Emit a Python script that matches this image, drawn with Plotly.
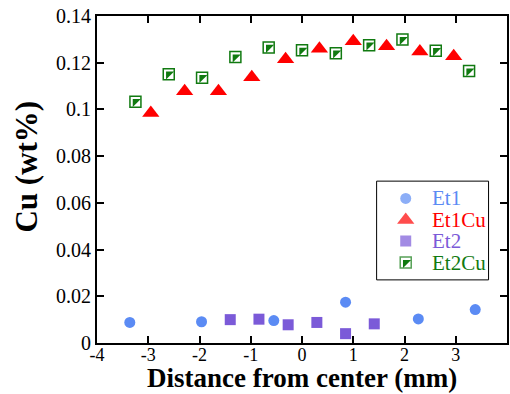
import plotly.graph_objects as go

# Data
et1_x = [-3.36, -1.96, -0.55, 0.85, 2.27, 3.38]
et1_y = [0.0088, 0.0091, 0.0096, 0.0175, 0.0103, 0.0143]

et1cu_x = [-2.95, -2.29, -1.63, -0.98, -0.32, 0.34, 1.00, 1.65, 2.30, 2.96]
et1cu_y = [0.0985, 0.1078, 0.1078, 0.1138, 0.1215, 0.1260, 0.1292, 0.1270, 0.1248, 0.1228]

et2_x = [-1.40, -0.84, -0.27, 0.29, 0.85, 1.41]
et2_y = [0.0100, 0.0102, 0.0078, 0.0088, 0.0040, 0.0082]

et2cu_x = [-3.25, -2.60, -1.95, -1.30, -0.65, 0.00, 0.66, 1.31, 1.96, 2.61, 3.26]
et2cu_y = [0.1033, 0.1151, 0.1136, 0.1224, 0.1265, 0.1253, 0.1241, 0.1275, 0.1299, 0.1251, 0.1164]

x_ticks = [-4, -3, -2, -1, 0, 1, 2, 3, 4]
x_ticktext = ["-4", "-3", "-2", "-1", "0", "1", "2", "3", "4"]
y_ticks = [0, 0.02, 0.04, 0.06, 0.08, 0.1, 0.12, 0.14]
y_ticktext = ["0", "0.02", "0.04", "0.06", "0.08", "0.1", "0.12", "0.14"]

series_names = ["Et1", "Et1Cu", "Et2", "Et2Cu"]

BLUE = "#5B8BF4"
RED = "#FF0000"
PURPLE = "#7B5AD8"
GREEN = "#117A11"
FONT = "Liberation Serif"

fig = go.Figure()

fig.add_trace(go.Scatter(x=et1_x, y=et1_y, mode="markers", name=series_names[0],
                         marker=dict(symbol="circle", size=11, color=BLUE)))
fig.add_trace(go.Scatter(x=et1cu_x, y=et1cu_y, mode="markers", name=series_names[1],
                         marker=dict(symbol="triangle-up", size=15, color=RED)))
fig.add_trace(go.Scatter(x=et2_x, y=et2_y, mode="markers", name=series_names[2],
                         marker=dict(symbol="square", size=11, color=PURPLE)))
# half-filled squares: open square + filled upper-left triangle
fig.add_trace(go.Scatter(x=et2cu_x, y=et2cu_y, mode="markers", name=series_names[3],
                         marker=dict(symbol="square", size=11, color="white",
                                     line=dict(color=GREEN, width=1.5))))
fig.add_trace(go.Scatter(x=et2cu_x, y=et2cu_y, mode="markers", showlegend=False,
                         marker=dict(symbol="triangle-nw", size=9, color=GREEN,
                                     line=dict(width=0))))

# Custom legend on a hidden overlay axis
leg_x = [0.26, 0.26, 0.26, 0.26]
leg_y = [0.825, 0.606, 0.394, 0.175]
leg_syms = ["circle", "triangle-up", "square", "square"]
leg_cols = [BLUE, RED, PURPLE, "white"]
leg_sizes = [11, 15, 11, 11]
leg_lines = [0, 0, 0, 1.5]
fig.add_trace(go.Scatter(x=leg_x, y=leg_y, mode="markers", xaxis="x2", yaxis="y2",
                         showlegend=False, hoverinfo="skip",
                         marker=dict(symbol=leg_syms, size=leg_sizes, color=leg_cols,
                                     line=dict(color=GREEN, width=leg_lines))))
fig.add_trace(go.Scatter(x=leg_x[3:], y=leg_y[3:], mode="markers", xaxis="x2", yaxis="y2",
                         showlegend=False, hoverinfo="skip",
                         marker=dict(symbol="triangle-nw", size=9, color=GREEN,
                                     line=dict(width=0))))
for name, yy, col in zip(series_names, leg_y, [BLUE, RED, PURPLE, GREEN]):
    fig.add_annotation(x=0.48, y=yy, xref="x2", yref="y2", text=name, showarrow=False,
                       xanchor="left", yanchor="middle",
                       font=dict(family=FONT, size=21, color=col))

fig.add_shape(type="rect", xref="paper", yref="paper", x0=0.682, x1=0.955, y0=0.193, y1=0.495,
              line=dict(color="black", width=1), fillcolor="rgba(0,0,0,0)")

fig.update_layout(
    width=510, height=394,
    margin=dict(l=97, r=3, t=16, b=51, autoexpand=False),
    paper_bgcolor="white", plot_bgcolor="white",
    showlegend=False,
    font=dict(family=FONT, color="black"),
    xaxis=dict(range=[-4, 4], tickvals=x_ticks, ticktext=x_ticktext,
               ticks="inside", ticklen=7, tickwidth=2, tickcolor="black",
               showline=True, linewidth=2, linecolor="black", mirror="allticks",
               showgrid=False, zeroline=False, ticklabelstandoff=-6,
               tickfont=dict(size=18, family=FONT)),
    yaxis=dict(range=[0, 0.14], tickvals=y_ticks, ticktext=y_ticktext,
               ticks="inside", ticklen=7, tickwidth=2, tickcolor="black",
               showline=True, linewidth=2, linecolor="black", mirror="allticks",
               showgrid=False, zeroline=False, tickfont=dict(size=20, family=FONT)),
    xaxis2=dict(domain=[0.682, 0.955], range=[0, 1], visible=False, anchor="y2"),
    yaxis2=dict(domain=[0.193, 0.495], range=[0, 1], visible=False, anchor="x2"),
)

fig.add_annotation(x=0.5, y=-0.108, xref="paper", yref="paper", text="<b>Distance from center (mm)</b>",
                   showarrow=False, xanchor="center", yanchor="middle",
                   font=dict(family=FONT, size=27, color="black"))
fig.add_annotation(x=-0.172, y=0.541, xref="paper", yref="paper", text="<b>Cu (wt%)</b>",
                   showarrow=False, textangle=-90, xanchor="center", yanchor="middle",
                   font=dict(family=FONT, size=31, color="black"))

fig.write_html("out.html")
